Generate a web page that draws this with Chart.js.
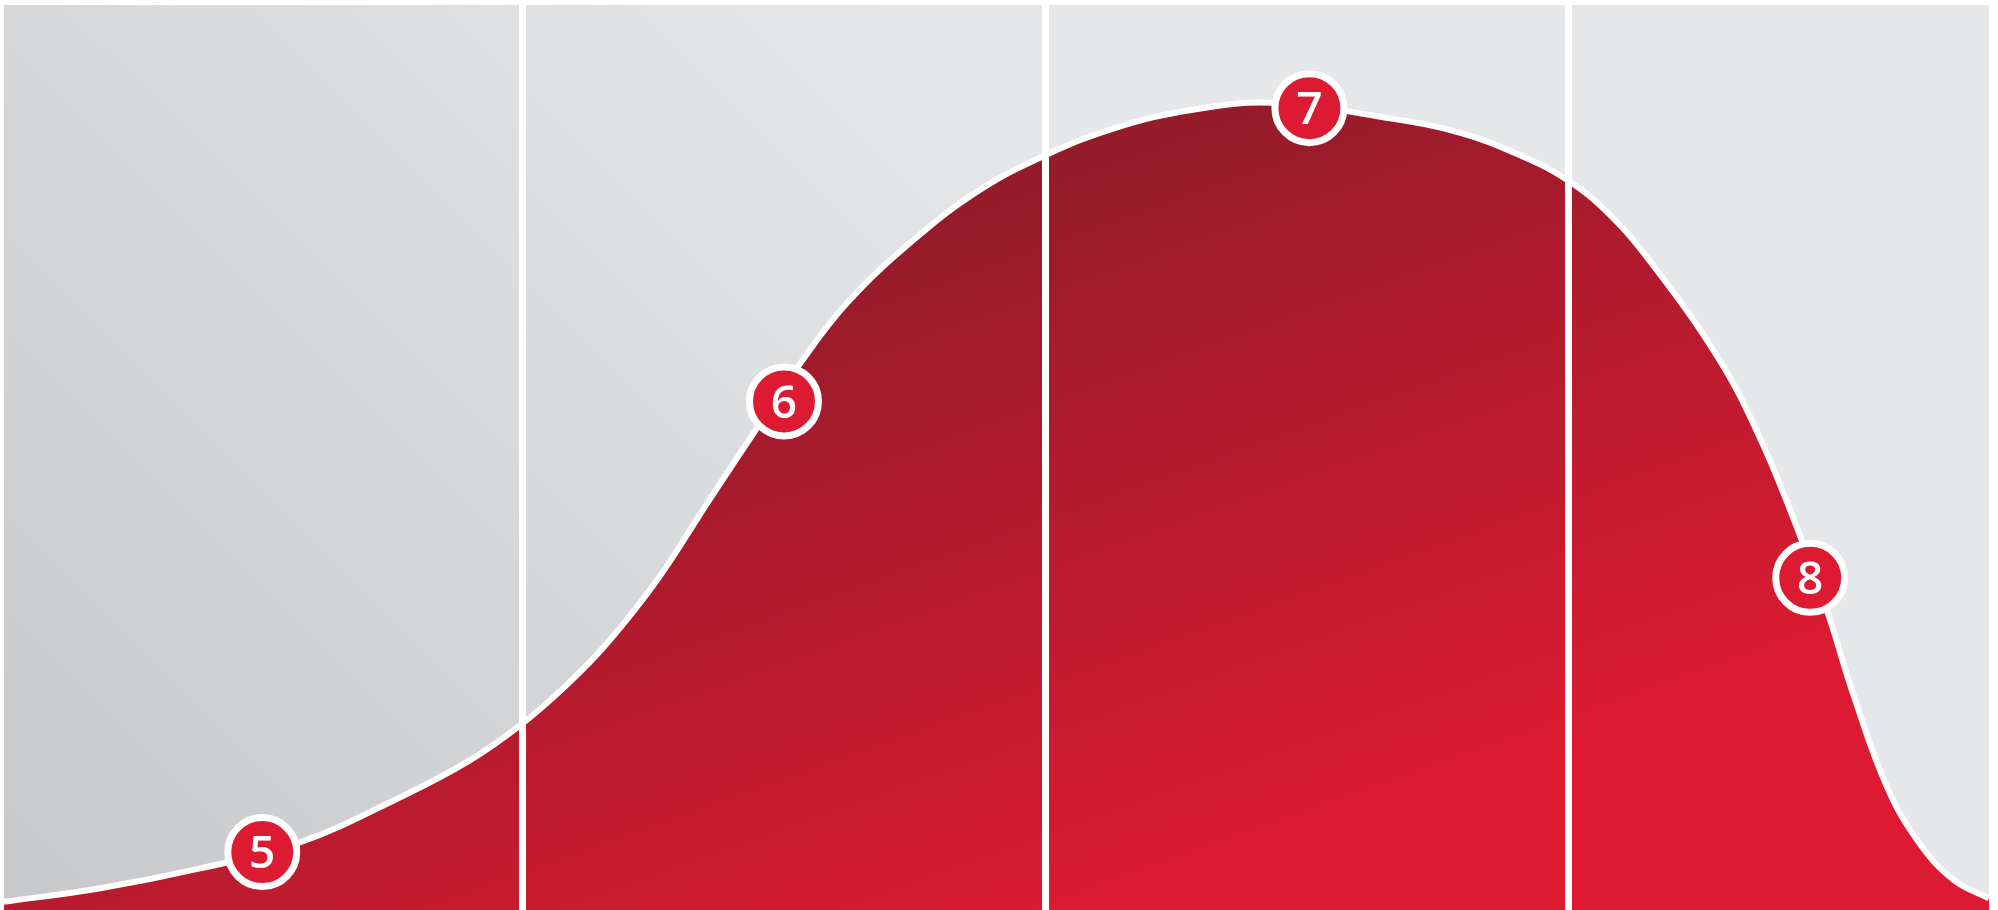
<!DOCTYPE html>
<html>
<head>
<meta charset="utf-8">
<script src="https://cdn.jsdelivr.net/npm/chart.js@4.4.1/dist/chart.umd.min.js"></script>
<style>
    body { margin: 0; background: #ffffff; }
    #wrap { width: 1998px; height: 910px; position: relative; }
</style>
</head>
<body>
<div id="wrap"><canvas id="grafico"></canvas></div>
<script>
// curva
const curvaX = [4.508, 4.692, 4.883, 5.071, 5.271, 5.398, 5.495, 5.583, 5.662, 5.759, 5.857, 5.950,
    6.031, 6.121, 6.247, 6.375, 6.500, 6.633, 6.779, 6.934, 7.146, 7.292, 7.408, 7.500, 7.580, 7.659,
    7.787, 7.865, 7.942, 7.999, 8.045, 8.110, 8.173, 8.238, 8.305];
const curvaY = [0.9, 2.4, 4.6, 7.4, 12.6, 16.5, 20.4, 24.8, 29.5, 36.6, 45.3, 53.4,
    60.4, 67.1, 74.0, 79.6, 83.4, 86.4, 88.4, 89.2, 87.6, 85.9, 83.4, 80.6, 76.8, 71.5,
    61.0, 52.4, 41.6, 32.4, 23.9, 13.6, 7.3, 3.3, 1.3];

// marcadores numerados
const marcadores = ['5', '6', '7', '8'];
const marcadorX = [5.002, 6.000, 7.005, 7.963];
const marcadorY = [6.4, 56.2, 88.6, 36.7];

// linhas verticais
const divisoes = [5.5, 6.5, 7.5];

const fundoPlugin = {
    id: 'fundo',
    beforeDraw(chart) {
        const { ctx, chartArea: a } = chart;
        const g = ctx.createLinearGradient(a.left, a.bottom, a.left + 900, a.top);
        g.addColorStop(0, '#c7c8ca');
        g.addColorStop(1, '#e6e7e9');
        ctx.save();
        ctx.fillStyle = g;
        ctx.fillRect(a.left, a.top, a.right - a.left, a.bottom - a.top);
        ctx.restore();
    }
};

const numerosPlugin = {
    id: 'numeros',
    afterDatasetsDraw(chart) {
        const ctx = chart.ctx;
        const meta = chart.getDatasetMeta(1);
        ctx.save();
        ctx.fillStyle = '#ffffff';
        ctx.font = '600 46px "Open Sans", sans-serif';
        ctx.textAlign = 'center';
        ctx.textBaseline = 'alphabetic';
        meta.data.forEach((pt, i) => {
            const m = ctx.measureText(marcadores[i]);
            const h = m.actualBoundingBoxAscent - m.actualBoundingBoxDescent;
            ctx.fillText(marcadores[i], pt.x, pt.y + h / 2);
        });
        ctx.restore();
    }
};

function preenchimento(context) {
    const chart = context.chart;
    const a = chart.chartArea;
    if (!a) return '#b51b2e';
    const g = chart.ctx.createLinearGradient(a.left + 1096, a.top + 115, a.left + 1346, a.top + 815);
    g.addColorStop(0, '#911b2a');
    g.addColorStop(1, '#dc1b32');
    return g;
}

new Chart(document.getElementById('grafico'), {
    type: 'line',
    data: {
        datasets: [{
            data: curvaX.map((x, i) => ({ x: x, y: curvaY[i] })),
            order: 1,
            borderColor: '#ffffff',
            borderWidth: 6,
            backgroundColor: preenchimento,
            fill: 'start',
            tension: 0.4,
            pointRadius: 0
        }, {
            data: marcadorX.map((x, i) => ({ x: x, y: marcadorY[i] })),
            order: 0,
            showLine: false,
            pointRadius: 34.5,
            pointBorderWidth: 7,
            pointBackgroundColor: '#dc1a32',
            pointBorderColor: '#ffffff'
        }]
    },
    options: {
        responsive: true,
        maintainAspectRatio: false,
        animation: false,
        layout: { autoPadding: false, padding: { left: 4, right: 9, top: 5, bottom: 0 } },
        plugins: { legend: { display: false }, tooltip: { enabled: false } },
        scales: {
            x: {
                type: 'linear',
                min: 4.508,
                max: 8.305,
                afterBuildTicks: axis => { axis.ticks = divisoes.map(v => ({ value: v })); },
                ticks: { display: false },
                grid: { color: '#ffffff', lineWidth: 7, drawTicks: false, z: 1 },
                border: { display: false }
            },
            y: {
                display: false,
                min: 0,
                max: 100
            }
        }
    },
    plugins: [fundoPlugin, numerosPlugin]
});
</script>
</body>
</html>
